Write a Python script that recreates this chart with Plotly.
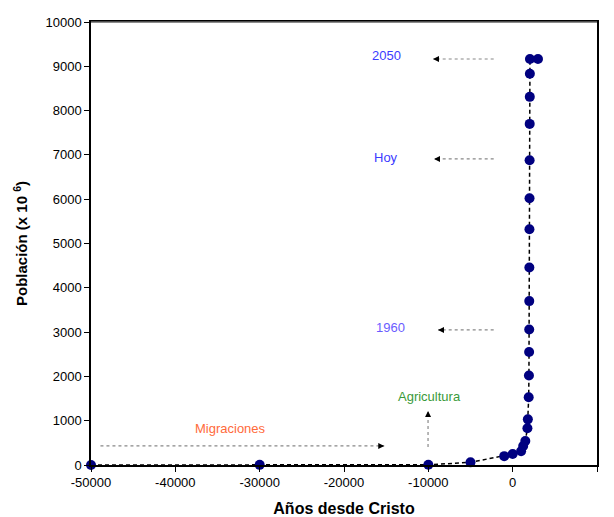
import plotly.graph_objects as go

years = [-50000, -30000, -10000, -5000, -1000, 0, 1000, 1250, 1500, 1750, 1800,
         1900, 1930, 1950, 1960, 1970, 1980, 1990, 2000, 2009, 2020, 2030, 2040, 2050, 3000]
population = [1, 3, 5, 60, 200, 250, 310, 430, 540, 830, 1030,
              1530, 2020, 2550, 3060, 3700, 4460, 5320, 6020, 6880, 7700, 8310, 8830, 9165, 9165]

x_ticks = [-50000, -40000, -30000, -20000, -10000, 0, 10000]
y_ticks = list(range(0, 10001, 1000))

FONT = "Liberation Sans, Arial, sans-serif"

fig = go.Figure()
fig.add_trace(go.Scatter(
    x=years, y=population, mode="lines+markers",
    line=dict(color="black", width=1.5, dash="4px,3px"),
    marker=dict(color="#000080", size=10),
    showlegend=False, cliponaxis=False,
))

# annotation labels: (text, x, y, color)
labels = [
    ("2050", -15000, 9235, "#3b3bff"),
    ("Hoy", -15000, 6935, "#3b3bff"),
    ("1960", -14500, 3095, "#6a5cff"),
    ("Agricultura", -9900, 1536, "#3a9a3a"),
    ("Migraciones", -33500, 813, "#ff6a3a"),
]
for t, x, y, c in labels:
    fig.add_annotation(x=x, y=y, text=t, showarrow=False,
                       font=dict(family=FONT, size=13, color=c))

# dotted arrows: (x0, y0, x1(head), y1(head))
arrows = [
    (-2250, 9165, -9450, 9165),
    (-2250, 6910, -9330, 6910),
    (-2250, 3050, -8850, 3050),
    (-10035, 405, -10035, 1220),
    (-48880, 430, -15230, 430),
]
for x0, y0, x1, y1 in arrows:
    fig.add_shape(type="line", x0=x0, y0=y0, x1=x1, y1=y1,
                  line=dict(color="#888888", width=1.2, dash="dot"))
    dx = 0 if x1 == x0 else (6 if x1 < x0 else -6)
    dy = 0 if y1 == y0 else 6
    fig.add_annotation(x=x1, y=y1, ax=dx, ay=dy, axref="pixel", ayref="pixel",
                       text="", showarrow=True, arrowhead=2, arrowsize=1,
                       arrowwidth=1.2, arrowcolor="black")

fig.add_shape(type="line", xref="paper", yref="paper", x0=0, x1=1, y0=1, y1=1,
              line=dict(color="#666666", width=1.5))

fig.update_layout(
    width=606, height=509,
    margin=dict(l=83, r=17, t=14, b=52, autoexpand=False),
    paper_bgcolor="white", plot_bgcolor="white",
    font=dict(family=FONT, size=13, color="black"),
)
fig.update_xaxes(
    range=[-50000, 10000], tickvals=x_ticks, ticktext=[str(v) for v in x_ticks],
    showgrid=False, zeroline=False, showline=True, linecolor="black", linewidth=1.5,
    mirror=True, ticks="outside", ticklen=5, tickcolor="black", automargin=False,
    title=dict(text="<b>Años desde Cristo</b>", font=dict(size=16), standoff=13),
)
fig.update_yaxes(
    range=[0, 10000], tickvals=y_ticks, ticktext=[str(v) for v in y_ticks],
    showgrid=False, zeroline=False, showline=True, linecolor="black", linewidth=1.5,
    mirror=True, ticks="outside", ticklen=5, tickcolor="black", automargin=False,
    title=dict(text="<b>Población (x 10 <sup>6</sup>)</b>", font=dict(size=15), standoff=14),
)

fig.write_html("out.html")
